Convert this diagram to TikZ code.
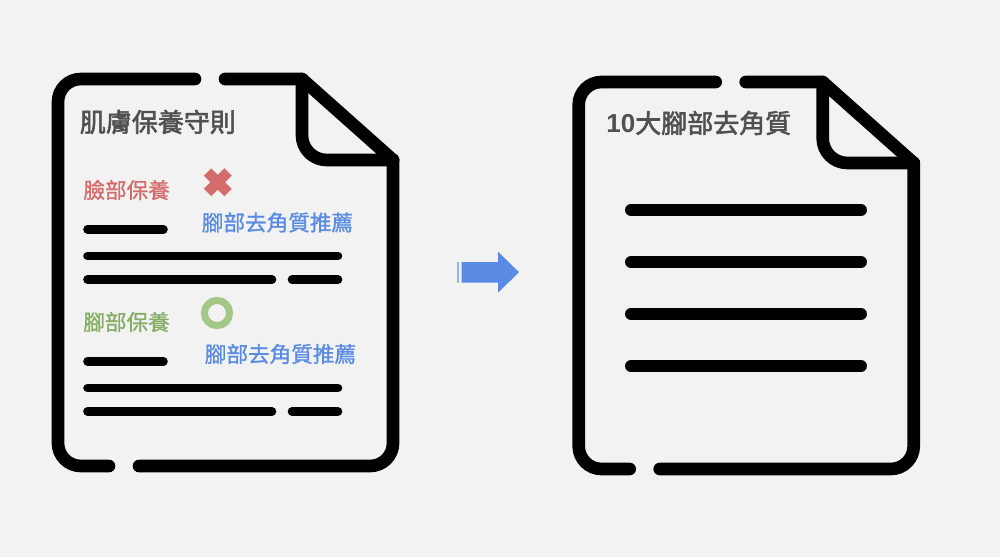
\documentclass[tikz,border=0pt]{standalone}
\usepackage{fontspec}
\setmainfont{Noto Sans CJK TC}
\newfontfamily\titlefont[FakeBold=2.2]{Noto Sans CJK TC}
\newfontfamily\labelfont[FakeBold=1.1]{Noto Sans CJK TC}
\newfontfamily\digitfont{Liberation Sans}
\definecolor{bgcol}{HTML}{F2F2F2}
\definecolor{inkcol}{HTML}{505050}
\definecolor{redcol}{HTML}{D46C6C}
\definecolor{bluecol}{HTML}{5A8BE3}
\definecolor{greencol}{HTML}{86AD66}
\definecolor{ringcol}{HTML}{A3C785}
\tikzset{
  pageline/.style={line width=7.2pt, line cap=round, line join=round},
  textline/.style={line width=4.9pt, line cap=round},
  bigline/.style={line width=6.8pt, line cap=round},
  titletext/.style={anchor=west, inner sep=0pt, text=inkcol, font=\fontsize{14.8}{16}\selectfont\titlefont},
  smalltext/.style={anchor=west, inner sep=0pt, font=\fontsize{12.3}{14}\selectfont\labelfont},
}
\begin{document}
\begin{tikzpicture}[x=.02cm, y=-.02cm]
\fill[bgcol] (0,0) rectangle (1000,557);
\useasboundingbox (0,0) rectangle (1000,557);
% the two pages
\foreach \dx/\dy in {0/0, 520.7/3}{
\begin{scope}[shift={(\dx,\dy)}]
\draw[pageline, rounded corners=13pt] (195,79)--(58,79)--(58,466)--(109,466);
\draw[pageline, rounded corners=13pt] (139,466)--(393,466)--(393,160);
\draw[pageline] (225,79)--(302,79)--(393,160);
\draw[pageline, rounded corners=14pt] (302,79)--(302,160)--(393,160);
\end{scope}
}
% left page
\node[titletext] (lefttitle) at (79.5,122) {肌膚保養守則};
\node[smalltext, text=redcol] (facehead) at (83,190) {臉部保養};
\node[smalltext, text=bluecol] (faceblue) at (201.5,222.5) {腳部去角質推薦};
\node[smalltext, text=greencol] (foothead) at (83,322) {腳部保養};
\node[smalltext, text=bluecol] (footblue) at (204.5,354) {腳部去角質推薦};
\draw[redcol, line width=6pt] (207.5,172)--(228,192.5) (228,172)--(207.5,192.5);
\draw[ringcol, line width=4pt] (217,313) circle[radius=12.6];
\foreach \y in {0,132}{
\draw[textline] (87.5,229.3+\y)--(163.5,229.3+\y);
\draw[textline] (87.5,256+\y)--(338,256+\y);
\draw[textline] (87.5,279.5+\y)--(272,279.5+\y);
\draw[textline] (292,279.5+\y)--(338,279.5+\y);
}
% right page
\node[titletext] (righttitle) at (606,123) {{\digitfont\bfseries 10}大腳部去角質};
\foreach \y in {210,262,314,366}{
\draw[bigline] (631,\y)--(861,\y);
}
% arrow
\fill[bluecol] (461.7,262)--(498,262)--(498,251.7)--(519,272.2)--(498,292.7)--(498,282.7)--(461.7,282.7)--cycle;
\draw[bluecol!65, line width=1pt] (458,262)--(458,282.7);
\end{tikzpicture}
\end{document}
